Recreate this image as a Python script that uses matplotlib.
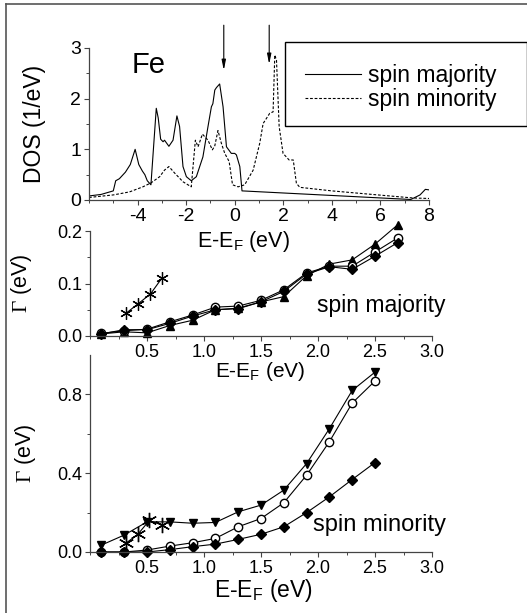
import numpy as np
import matplotlib
matplotlib.use('Agg')
import matplotlib.pyplot as plt
from matplotlib.ticker import FixedLocator, MultipleLocator, FormatStrFormatter
from matplotlib.lines import Line2D
from matplotlib.patches import Rectangle

plt.rcParams['font.family'] = ['Liberation Sans', 'DejaVu Sans']
plt.rcParams['mathtext.fontset'] = 'custom'
plt.rcParams['mathtext.rm'] = 'Liberation Serif'
plt.rcParams['mathtext.sf'] = 'Liberation Sans'
plt.rcParams['mathtext.it'] = 'Liberation Serif:italic'
plt.rcParams['axes.unicode_minus'] = False

# --- DOS of Fe ---
maj_e = [-6.0, -5.5, -5.0, -4.9, -4.75, -4.5, -4.3, -4.1, -3.95, -3.8, -3.7,
         -3.6, -3.45, -3.23, -3.15, -3.05, -2.95, -2.89, -2.71, -2.54, -2.38,
         -2.27, -2.13, -1.99, -1.79, -1.58, -1.31, -1.10, -0.96, -0.90, -0.82,
         -0.75, -0.62, -0.48, -0.34, -0.14, 0.0, 0.07, 0.21, 0.30, 7.25, 7.63,
         7.85, 8.0]
maj_dos = [0.08, 0.11, 0.18, 0.38, 0.42, 0.55, 0.70, 1.0, 0.70, 0.57, 0.50,
           0.38, 0.30, 1.81, 1.62, 1.20, 1.15, 1.18, 1.06, 1.18, 1.66,
           1.45, 0.66, 0.46, 0.38, 0.46, 0.85, 1.45, 1.84, 1.90, 2.17,
           2.22, 2.29, 1.84, 1.05, 0.92, 0.92, 0.89, 0.66, 0.18, 0.01, 0.10,
           0.21, 0.20]
min_e = [-6.0, -5.0, -4.33, -3.78, -3.44, -3.09, -2.89, -2.71, -2.47, -2.13,
         -1.79, -1.62, -1.51, -1.33, -1.10, -0.92, -0.82, -0.69, -0.55, -0.41,
         -0.23, -0.09, 0.14, 0.41, 0.76, 1.03, 1.17, 1.44, 1.58, 1.65, 1.72,
         1.83, 1.99, 2.24, 2.41, 2.54, 2.68, 4.0, 5.9, 7.34, 8.0]
min_dos = [0.05, 0.10, 0.16, 0.26, 0.34, 0.46, 0.59, 0.66, 0.53, 0.36,
           0.26, 1.18, 1.05, 1.30, 1.18, 0.99, 1.07, 1.37, 1.12, 0.92,
           0.76, 0.30, 0.26, 0.30, 0.59, 1.12, 1.51, 1.71, 1.74, 2.86, 2.76,
           1.45, 0.92, 0.79, 0.79, 0.33, 0.25, 0.18, 0.10, 0.04, 0.03]
arrow_e = [-0.45, 1.42]
arrow_tip = [2.56, 2.68]

# --- lifetimes, spin majority ---
e_maj = [0.1, 0.3, 0.5, 0.7, 0.9, 1.1, 1.3, 1.5, 1.7, 1.9, 2.1, 2.3, 2.5, 2.7]
g_maj_tri = [0.004, 0.008, 0.006, 0.020, 0.030, 0.050, 0.053, 0.065, 0.075,
             0.115, 0.137, 0.145, 0.175, 0.212]
g_maj_circ = [0.005, 0.010, 0.013, 0.027, 0.040, 0.055, 0.057, 0.068, 0.088,
              0.120, 0.133, 0.133, 0.160, 0.187]
g_maj_dia = [0.004, 0.012, 0.012, 0.024, 0.038, 0.050, 0.052, 0.065, 0.085,
             0.118, 0.132, 0.127, 0.152, 0.178]
e_maj_star = [0.32, 0.42, 0.53, 0.63]
g_maj_star = [0.044, 0.061, 0.080, 0.110]

# --- lifetimes, spin minority ---
e_min = [0.1, 0.3, 0.5, 0.7, 0.9, 1.1, 1.3, 1.5, 1.7, 1.9, 2.1, 2.3, 2.5]
g_min_tri = [0.035, 0.086, 0.153, 0.153, 0.146, 0.150, 0.204, 0.238, 0.314,
             0.449, 0.626, 0.820, 0.913]
g_min_circ = [0.0, 0.0, 0.010, 0.030, 0.047, 0.069, 0.128, 0.170, 0.250,
              0.390, 0.560, 0.756, 0.868]
g_min_dia = [0.0, 0.0, 0.0, 0.012, 0.027, 0.040, 0.064, 0.090, 0.128,
             0.200, 0.280, 0.368, 0.454]
e_min_star = [0.32, 0.42, 0.52, 0.63]
g_min_star = [0.047, 0.090, 0.160, 0.137]

W, H = 527, 613
fig = plt.figure(figsize=(W / 100, H / 100), dpi=100)

def px_axes(x0, x1, y_top, y_bot):
    ax = fig.add_axes([x0 / W, 1 - y_bot / H, (x1 - x0) / W, (y_bot - y_top) / H])
    ax.set_facecolor('none')  # panels overlap their neighbours' labels
    return ax

def style(ax, size):
    for s in ('top', 'right'):
        ax.spines[s].set_visible(False)
    for s in ('left', 'bottom'):
        ax.spines[s].set_linewidth(0.9)
        ax.spines[s].set_color('#444444')
    ax.tick_params(which='major', direction='out', length=3.5, width=0.8,
                   labelsize=size, pad=2, color='#444444')
    ax.tick_params(which='minor', direction='out', length=2.2, width=0.7,
                   color='#444444')

# top panel: DOS
ax1 = px_axes(89, 429, 48, 200)
style(ax1, 14)
ax1.plot(maj_e, maj_dos, color='black', lw=0.8, label='spin majority')
ax1.plot(min_e, min_dos, color='black', lw=0.8, dashes=(2.5, 1.6),
         label='spin minority')
ax1.set_xlim(-6, 8)
ax1.set_ylim(0, 3)
ax1.xaxis.set_major_locator(FixedLocator([-4, -2, 0, 2, 4, 6, 8]))
ax1.xaxis.set_minor_locator(MultipleLocator(1))
ax1.yaxis.set_major_locator(MultipleLocator(1))
ax1.yaxis.set_minor_locator(MultipleLocator(0.5))
for xa, ya in zip(arrow_e, arrow_tip):
    ax1.annotate('', xy=(xa, ya), xytext=(xa, 3.45), annotation_clip=False,
                 arrowprops=dict(arrowstyle='-|>,head_width=0.12,head_length=0.6',
                                 color='black', lw=0.8, shrinkA=0, shrinkB=0))
ax1.text(-4.25, 2.5, 'Fe', fontsize=21, va='baseline', ha='left')
ax1.set_ylabel('DOS (1/eV)', fontsize=16.5)
ax1.yaxis.set_label_coords(-0.126, 0.5)
ax1.set_xlabel(r'E-E$_\mathsf{F}$ (eV)', fontsize=15.5)
ax1.xaxis.set_label_coords(0.455, -0.19)

# legend box sticking out to the right
fig.add_artist(Rectangle((285 / W, 1 - 126 / H), (W - 285) / W, 84 / H,
                         transform=fig.transFigure, fill=False,
                         edgecolor='black', lw=1.0))
fig.legend(*ax1.get_legend_handles_labels(), loc='upper left',
           bbox_to_anchor=(305 / W, 1 - 64 / H), frameon=False, fontsize=16.5,
           handlelength=2.45, handletextpad=0.3, labelspacing=0.05,
           borderpad=0, borderaxespad=0)

# middle panel: spin majority
ax2 = px_axes(90, 432, 231, 336)
style(ax2, 13)
ax2.plot(e_maj, g_maj_tri, '-^', color='black', lw=0.8, ms=6, clip_on=False)
ax2.plot(e_maj, g_maj_circ, '-o', color='black', mfc='white', mec='black',
         lw=0.8, ms=6, clip_on=False)
ax2.plot(e_maj, g_maj_dia, '-D', color='black', lw=0.8, ms=5, clip_on=False)
ax2.plot(e_maj_star, g_maj_star, '-', color='black', lw=0.8, marker=(6, 2, 0),
         ms=9, mew=0.9, clip_on=False)
ax2.set_xlim(0, 3)
ax2.set_ylim(0, 0.2)
ax2.xaxis.set_major_locator(FixedLocator([0.5, 1.0, 1.5, 2.0, 2.5, 3.0]))
ax2.xaxis.set_minor_locator(MultipleLocator(0.25))
ax2.yaxis.set_major_locator(MultipleLocator(0.1))
ax2.yaxis.set_minor_locator(MultipleLocator(0.05))
ax2.xaxis.set_major_formatter(FormatStrFormatter('%.1f'))
ax2.yaxis.set_major_formatter(FormatStrFormatter('%.1f'))
ax2.text(1.99, 0.059, 'spin majority', fontsize=16.5, va='center', ha='left')
ax2.set_ylabel(r'$\Gamma$ (eV)', fontsize=15.5)
ax2.yaxis.set_label_coords(-0.164, 0.5)
ax2.set_xlabel(r'E-E$_\mathsf{F}$ (eV)', fontsize=15)
ax2.xaxis.set_label_coords(0.497, -0.23)

# bottom panel: spin minority
ax3 = px_axes(90, 432, 355, 552)
style(ax3, 13)
ax3.plot(e_min, g_min_tri, '-v', color='black', lw=0.8, ms=6, clip_on=False)
ax3.plot(e_min, g_min_circ, '-o', color='black', mfc='white', mec='black',
         lw=0.8, ms=6, clip_on=False)
ax3.plot(e_min, g_min_dia, '-D', color='black', lw=0.8, ms=5.5, clip_on=False)
ax3.plot(e_min_star, g_min_star, '-', color='black', lw=0.8, marker=(6, 2, 0),
         ms=11, mew=1.0, clip_on=False)
ax3.set_xlim(0, 3)
ax3.set_ylim(0, 1.0)
ax3.xaxis.set_major_locator(FixedLocator([0.5, 1.0, 1.5, 2.0, 2.5, 3.0]))
ax3.xaxis.set_minor_locator(MultipleLocator(0.25))
ax3.yaxis.set_major_locator(FixedLocator([0.0, 0.4, 0.8]))
ax3.yaxis.set_minor_locator(FixedLocator([0.2, 0.6]))
ax3.xaxis.set_major_formatter(FormatStrFormatter('%.1f'))
ax3.yaxis.set_major_formatter(FormatStrFormatter('%.1f'))
ax3.text(1.96, 0.137, 'spin minority', fontsize=17, va='center', ha='left')
ax3.set_ylabel(r'$\Gamma$ (eV)', fontsize=15.5)
ax3.yaxis.set_label_coords(-0.152, 0.5)
ax3.set_xlabel(r'E-E$_\mathsf{F}$ (eV)', fontsize=16.5)
ax3.xaxis.set_label_coords(0.506, -0.125)

# frame of the original figure (left and top edges only)
fig.add_artist(Line2D([6 / W, 1], [1 - 4 / H, 1 - 4 / H],
                      transform=fig.transFigure, color='#555555', lw=1.2))
fig.add_artist(Line2D([6 / W, 6 / W], [0, 1 - 4 / H],
                      transform=fig.transFigure, color='#555555', lw=1.2))

fig.savefig('out.png', dpi=100)
